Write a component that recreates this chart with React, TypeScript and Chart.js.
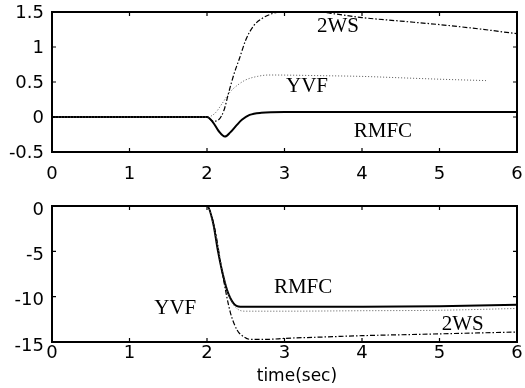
import React, { useEffect, useRef } from "react";
import { Chart, registerables } from "chart.js";
Chart.register(...registerables);

// ---------- Top panel data ----------
const topRmfcT = [0, 2.0, 2.08, 2.15, 2.23, 2.3, 2.38, 2.45, 2.55, 2.7, 3, 4, 5, 6];
const topRmfcV = [0, 0, -0.08, -0.2, -0.28, -0.22, -0.12, -0.04, 0.03, 0.06, 0.07, 0.07, 0.07, 0.07];
const topYvfT = [0, 2.0, 2.1, 2.2, 2.3, 2.4, 2.5, 2.65, 2.8, 3.5, 4.0, 4.5, 5.0, 5.6];
const topYvfV = [0, 0, 0.05, 0.2, 0.36, 0.46, 0.53, 0.58, 0.6, 0.59, 0.58, 0.56, 0.54, 0.52];
const top2wsT = [0, 2.0, 2.08, 2.15, 2.22, 2.28, 2.35, 2.42, 2.5, 2.6, 2.7, 2.85, 3.0, 3.3, 3.6, 4.0, 4.5, 5.0, 5.5, 6];
const top2wsV = [0, 0, -0.06, -0.04, 0.1, 0.35, 0.62, 0.84, 1.1, 1.3, 1.4, 1.48, 1.51, 1.52, 1.48, 1.42, 1.37, 1.32, 1.26, 1.19];
const topYTicks = [-0.5, 0, 0.5, 1, 1.5];
const topLabelText = ["2WS", "YVF", "RMFC"];
const topLabelT = [3.69, 3.29, 4.27];
const topLabelV = [1.3, 0.44, -0.2];

// ---------- Bottom panel data ----------
const botRmfcT = [0, 2.0, 2.08, 2.14, 2.19, 2.26, 2.34, 2.43, 2.5, 3, 4, 5, 6];
const botRmfcV = [0, 0, -1.9, -4.9, -7.0, -9.3, -10.7, -11.1, -11.1, -11.1, -11.1, -11.05, -10.9];
const botYvfT = [0, 2.0, 2.1, 2.2, 2.3, 2.4, 2.5, 3, 4, 5, 6];
const botYvfV = [0, 0, -2.8, -7.2, -10.2, -11.4, -11.6, -11.6, -11.55, -11.5, -11.3];
const bot2wsT = [0, 2.0, 2.1, 2.2, 2.3, 2.39, 2.47, 2.55, 2.8, 3, 3.5, 4, 4.5, 5, 5.5, 6];
const bot2wsV = [0, 0, -2.5, -7.5, -11.7, -13.7, -14.4, -14.7, -14.7, -14.6, -14.45, -14.3, -14.2, -14.1, -14.0, -13.9];
const botYTicks = [-15, -10, -5, 0];
const botLabelText = ["RMFC", "YVF", "2WS"];
const botLabelT = [3.24, 1.59, 5.3];
const botLabelV = [-9.04, -11.25, -13.1];

const xTicks = [0, 1, 2, 3, 4, 5, 6];
const xTitle = "time(sec)";
const xTitleAt = 3.16;

const pts = (t: number[], v: number[]) => t.map((x, i) => ({ x, y: v[i] }));

const tickFont = { family: "DejaVu Sans", size: 18 };

function makeFramePlugin(labels: string[], lt: number[], lv: number[], title?: string) {
  return {
    id: "frameAndLabels",
    afterDraw(chart: any) {
      const ctx = chart.ctx;
      const { left, right, top, bottom } = chart.chartArea;
      const xs = chart.scales.x;
      const ys = chart.scales.y;
      ctx.save();
      ctx.strokeStyle = "#000";
      ctx.lineWidth = 1.2;
      const tl = 4;
      ctx.beginPath();
      xs.ticks.forEach((tk: any) => {
        const px = xs.getPixelForValue(tk.value);
        ctx.moveTo(px, bottom);
        ctx.lineTo(px, bottom - tl);
        ctx.moveTo(px, top);
        ctx.lineTo(px, top + tl);
      });
      ys.ticks.forEach((tk: any) => {
        const py = ys.getPixelForValue(tk.value);
        ctx.moveTo(left, py);
        ctx.lineTo(left + tl, py);
        ctx.moveTo(right, py);
        ctx.lineTo(right - tl, py);
      });
      ctx.stroke();
      ctx.lineWidth = 2;
      ctx.strokeRect(left, top, right - left, bottom - top);
      ctx.fillStyle = "#000";
      ctx.font = '21px "Liberation Serif"';
      ctx.textAlign = "center";
      ctx.textBaseline = "middle";
      labels.forEach((s, i) => {
        ctx.fillText(s, xs.getPixelForValue(lt[i]), ys.getPixelForValue(lv[i]));
      });
      if (title) {
        ctx.font = '17px "DejaVu Sans"';
        ctx.fillText(title, xs.getPixelForValue(xTitleAt), xs.bottom - 11);
      }
      ctx.restore();
    },
  };
}

function datasets(rT: number[], rV: number[], yT: number[], yV: number[], wT: number[], wV: number[]) {
  return [
    {
      label: "YVF",
      data: pts(yT, yV),
      borderColor: "#555",
      borderWidth: 1,
      borderDash: [1, 2],
      pointRadius: 0,
      cubicInterpolationMode: "monotone" as const,
    },
    {
      label: "2WS",
      data: pts(wT, wV),
      borderColor: "#000",
      borderWidth: 1.2,
      borderDash: [5, 2, 1.5, 2],
      pointRadius: 0,
      cubicInterpolationMode: "monotone" as const,
    },
    {
      label: "RMFC",
      data: pts(rT, rV),
      borderColor: "#000",
      borderWidth: 2,
      pointRadius: 0,
      cubicInterpolationMode: "monotone" as const,
    },
  ];
}

function buildOptions(opts: {
  yMin: number; yMax: number; yTicks: number[]; padTop: number; xHeight: number; xPad: number; yLabelOffset: number;
}) {
  return {
    animation: false as const,
    responsive: false,
    devicePixelRatio: 1,
    layout: { padding: { top: opts.padTop, right: 8, left: 0, bottom: 0 } },
    plugins: { legend: { display: false }, tooltip: { enabled: false } },
    scales: {
      x: {
        type: "linear" as const,
        min: 0,
        max: 6,
        afterBuildTicks: (s: any) => { s.ticks = xTicks.map((v) => ({ value: v })); },
        ticks: { font: tickFont, color: "#000", padding: opts.xPad, maxRotation: 0, callback: (v: any) => String(v) },
        grid: { display: false, drawTicks: false },
        border: { display: false },
        afterFit: (s: any) => { s.height = opts.xHeight; s.paddingLeft = 0; s.paddingRight = 0; },
      },
      y: {
        type: "linear" as const,
        min: opts.yMin,
        max: opts.yMax,
        afterBuildTicks: (s: any) => { s.ticks = opts.yTicks.map((v) => ({ value: v })); },
        ticks: { font: tickFont, color: "#000", padding: 8, labelOffset: opts.yLabelOffset, callback: (v: any) => String(v) },
        grid: { display: false, drawTicks: false },
        border: { display: false },
        afterFit: (s: any) => { s.width = 52; s.paddingTop = 0; s.paddingBottom = 0; },
      },
    },
  };
}

export default function App() {
  const topRef = useRef<HTMLCanvasElement>(null);
  const botRef = useRef<HTMLCanvasElement>(null);

  useEffect(() => {
    const top = new Chart(topRef.current!, {
      type: "line",
      data: { datasets: datasets(topRmfcT, topRmfcV, topYvfT, topYvfV, top2wsT, top2wsV) as any },
      options: buildOptions({ yMin: -0.5, yMax: 1.5, yTicks: topYTicks, padTop: 12, xHeight: 38, xPad: 12, yLabelOffset: 1 }) as any,
      plugins: [makeFramePlugin(topLabelText, topLabelT, topLabelV)],
    });
    const bot = new Chart(botRef.current!, {
      type: "line",
      data: { datasets: datasets(botRmfcT, botRmfcV, botYvfT, botYvfV, bot2wsT, bot2wsV) as any },
      options: buildOptions({ yMin: -15, yMax: 0, yTicks: botYTicks, padTop: 16, xHeight: 46, xPad: 1, yLabelOffset: 4 }) as any,
      plugins: [makeFramePlugin(botLabelText, botLabelT, botLabelV, xTitle)],
    });
    return () => {
      top.destroy();
      bot.destroy();
    };
  }, []);

  return (
    <div style={{ position: "absolute", left: 0, top: 0, width: 525, height: 388, background: "#fff" }}>
      <canvas ref={topRef} width={525} height={190} style={{ position: "absolute", left: 0, top: 0, width: 525, height: 190 }} />
      <canvas ref={botRef} width={525} height={198} style={{ position: "absolute", left: 0, top: 190, width: 525, height: 198 }} />
    </div>
  );
}
